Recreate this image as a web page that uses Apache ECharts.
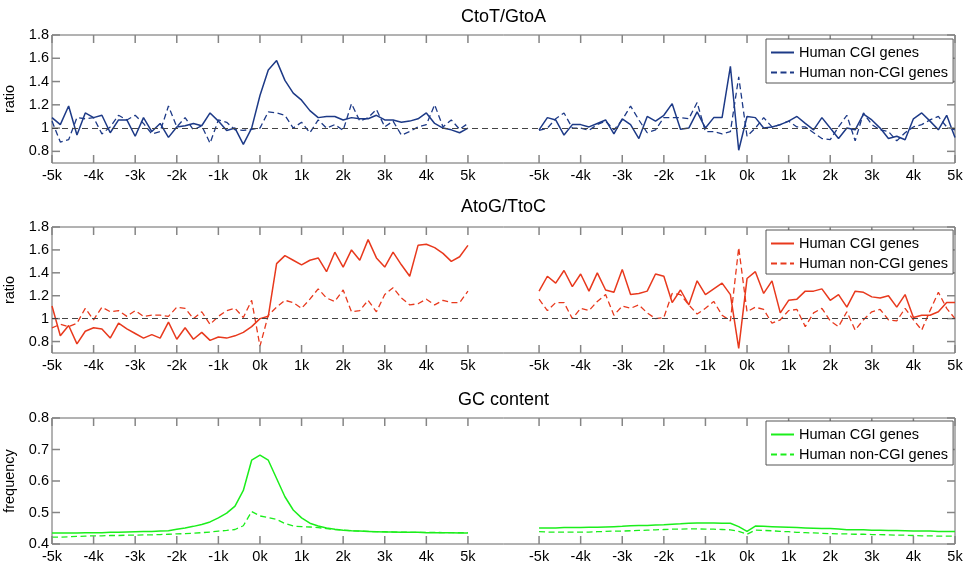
<!DOCTYPE html>
<html><head><meta charset="utf-8">
<script src="https://cdn.jsdelivr.net/npm/echarts@6/dist/echarts.min.js"></script>
<style>html,body{margin:0;padding:0;background:#fff}#c{width:965px;height:565px}</style>
</head><body><div id="c"></div>
<script>
// positions (kb) of the sampled windows, same for both segments
const POS = [-5,-4.8,-4.6,-4.4,-4.2,-4,-3.8,-3.6,-3.4,-3.2,-3,-2.8,-2.6,-2.4,-2.2,-2,-1.8,-1.6,-1.4,-1.2,-1,-0.8,-0.6,-0.4,-0.2,0,0.2,0.4,0.6,0.8,1,1.2,1.4,1.6,1.8,2,2.2,2.4,2.6,2.8,3,3.2,3.4,3.6,3.8,4,4.2,4.4,4.6,4.8,5];
const SHIFT = 11.71;            // where the right-hand segment sits on the shared axis
const TICK_K = [-5,-4,-3,-2,-1,0,1,2,3,4,5];

// Panel 1: CtoT/GtoA
const ctLeftCGI  = [1.09,1.03,1.19,0.94,1.13,1.09,1.11,0.96,1.07,1.07,0.93,1.09,0.97,1.04,0.92,1.01,1.02,1.04,1.02,1.13,1.06,0.98,1.0,0.86,1.0,1.28,1.5,1.58,1.41,1.3,1.24,1.15,1.09,1.1,1.1,1.07,1.09,1.08,1.08,1.11,1.07,1.07,1.05,1.06,1.08,1.13,1.04,1.0,0.985,0.96,1.0];
const ctLeftNon  = [1.06,0.88,0.9,1.09,1.08,1.09,0.95,1.01,1.11,1.07,1.11,1.04,0.95,0.97,1.19,1.01,1.09,0.985,1.02,0.87,1.07,1.05,0.985,0.98,0.99,1.0,1.14,1.13,1.11,1.0,1.05,0.96,1.07,1.0,1.03,0.98,1.21,1.06,1.09,1.16,1.01,1.06,0.94,0.97,1.01,1.03,1.2,1.01,1.07,0.99,1.04];
const ctRightCGI = [0.985,1.09,1.07,0.94,1.03,1.03,1.01,1.04,1.07,0.95,1.08,1.03,0.91,1.1,1.06,1.11,1.21,0.99,1.0,1.14,1.0,1.09,1.09,1.53,0.81,1.1,1.09,1.0,1.01,1.03,1.06,1.1,1.04,0.985,1.09,1.0,0.91,1.0,0.985,1.12,1.07,1.0,0.91,0.93,0.9,1.08,1.13,1.06,0.985,1.11,0.92];
const ctRightNon = [0.98,1.0,1.08,1.13,1.0,1.0,0.98,1.03,1.06,0.985,1.07,1.19,1.07,0.96,0.985,1.09,1.09,1.09,1.08,1.22,0.97,0.97,0.95,0.97,1.44,0.93,1.0,1.09,1.01,1.03,1.06,1.01,1.01,0.96,0.91,0.9,1.01,1.11,0.89,1.13,1.03,0.985,0.97,0.89,0.96,1.01,1.03,1.07,1.1,1.01,0.985];

// Panel 2: AtoG/TtoC
const agLeftCGI  = [1.11,0.85,0.94,0.78,0.89,0.92,0.91,0.83,0.96,0.91,0.87,0.83,0.86,0.83,0.97,0.82,0.92,0.82,0.88,0.81,0.84,0.83,0.85,0.88,0.93,1.0,1.02,1.48,1.55,1.51,1.47,1.51,1.53,1.41,1.58,1.45,1.6,1.51,1.69,1.53,1.45,1.58,1.47,1.37,1.64,1.65,1.62,1.57,1.5,1.54,1.64];
const agLeftNon  = [0.92,0.95,0.93,0.96,1.09,0.99,1.1,1.06,1.07,1.02,1.07,1.02,1.03,1.03,1.02,1.1,1.09,1.0,1.06,0.95,1.02,1.07,1.09,1.01,1.16,0.76,1.03,1.1,1.16,1.14,1.09,1.17,1.26,1.18,1.15,1.25,1.06,1.07,1.16,1.06,1.21,1.27,1.18,1.12,1.13,1.17,1.12,1.16,1.14,1.14,1.24];
const agRightCGI = [1.24,1.37,1.31,1.42,1.28,1.39,1.24,1.4,1.25,1.23,1.43,1.21,1.22,1.24,1.39,1.37,1.14,1.25,1.12,1.33,1.21,1.26,1.31,1.21,0.74,1.35,1.41,1.22,1.33,1.05,1.16,1.17,1.24,1.24,1.26,1.16,1.21,1.1,1.24,1.23,1.19,1.18,1.2,1.1,1.21,1.01,1.03,1.03,1.06,1.14,1.14];
const agRightNon = [1.17,1.07,1.14,1.14,1.0,1.09,1.07,1.15,1.21,1.03,1.11,1.09,1.12,1.05,1.0,1.01,1.22,1.21,1.12,1.04,1.09,1.15,1.03,0.98,1.62,1.06,1.1,1.08,0.96,0.99,1.07,1.08,0.93,1.05,1.09,0.98,0.93,1.06,0.9,0.99,1.06,1.08,0.99,0.98,1.09,0.99,0.9,1.07,1.23,1.09,1.0];

// Panel 3: GC content
const gcLeftCGI  = [0.435,0.435,0.435,0.435,0.436,0.436,0.436,0.437,0.437,0.438,0.439,0.44,0.44,0.441,0.442,0.447,0.451,0.456,0.462,0.47,0.483,0.498,0.52,0.57,0.666,0.682,0.666,0.608,0.55,0.508,0.483,0.466,0.457,0.451,0.447,0.444,0.442,0.441,0.44,0.439,0.438,0.438,0.437,0.437,0.437,0.436,0.436,0.436,0.436,0.435,0.435];
const gcLeftNon  = [0.422,0.422,0.423,0.424,0.425,0.426,0.426,0.427,0.427,0.428,0.428,0.429,0.429,0.43,0.431,0.432,0.433,0.434,0.436,0.438,0.441,0.443,0.446,0.458,0.503,0.489,0.484,0.478,0.465,0.457,0.455,0.454,0.452,0.449,0.446,0.444,0.442,0.441,0.44,0.439,0.439,0.438,0.438,0.437,0.437,0.437,0.437,0.436,0.436,0.436,0.436];
const gcRightCGI = [0.451,0.451,0.451,0.452,0.452,0.452,0.453,0.453,0.454,0.455,0.456,0.458,0.459,0.459,0.46,0.461,0.463,0.464,0.466,0.467,0.467,0.467,0.466,0.466,0.455,0.44,0.457,0.456,0.455,0.454,0.453,0.452,0.451,0.45,0.449,0.449,0.448,0.445,0.445,0.445,0.444,0.444,0.443,0.443,0.442,0.441,0.441,0.441,0.44,0.44,0.44];
const gcRightNon = [0.439,0.438,0.438,0.438,0.438,0.438,0.438,0.439,0.44,0.441,0.441,0.442,0.443,0.444,0.445,0.446,0.447,0.447,0.448,0.448,0.447,0.447,0.446,0.445,0.44,0.431,0.444,0.443,0.442,0.44,0.439,0.437,0.436,0.435,0.434,0.433,0.432,0.432,0.431,0.431,0.43,0.43,0.429,0.428,0.428,0.427,0.426,0.426,0.425,0.425,0.425];

const TITLES = ['CtoT/GtoA', 'AtoG/TtoC', 'GC content'];
const Y_NAMES = ['ratio', 'ratio', 'frequency'];
const Y_TICKS = [[0.8,1,1.2,1.4,1.6,1.8],[0.8,1,1.2,1.4,1.6,1.8],[0.4,0.5,0.6,0.7,0.8]];
const Y_RANGE = [[0.7,1.8],[0.7,1.8],[0.4,0.8]];
const COLORS = ['#1d3a87', '#e8391d', '#1bee1b'];
const LEGEND_NAMES = ['Human CGI genes', 'Human non-CGI genes'];
const DATA = [
  [ctLeftCGI, ctRightCGI, ctLeftNon, ctRightNon],
  [agLeftCGI, agRightCGI, agLeftNon, agRightNon],
  [gcLeftCGI, gcRightCGI, gcLeftNon, gcRightNon]
];

// layout
const GRID_TOP = [35, 227, 418];
const GRID_H = [128, 126, 126];
const TITLE_Y = [17, 207, 400];
const LEGEND_TOP = [39, 230, 421];
const FONT = '"Liberation Sans", Arial, Helvetica, sans-serif';
const TICK_LEN = 8, TICK_COLOR = '#858585';

const X_MIN = -5, X_MAX = 5 + SHIFT;
const xTickVals = TICK_K.concat(TICK_K.map(v => v + SHIFT));
const xFmt = v => (v > 5.5 ? Math.round(v - SHIFT) : Math.round(v)) + 'k';
const pairs = (vals, shift) => POS.map((p, i) => [p + shift, vals[i]]);
const uniq = (name, k) => name + ' '.repeat(k);

// inward tick marks on all four sides, placed through the axes' own scales
function tickSeries(k) {
  const [y0, y1] = Y_RANGE[k];
  const line = (a, b) => ({type: 'line', shape: {x1: a[0], y1: a[1], x2: b[0], y2: b[1]},
    style: {stroke: TICK_COLOR, lineWidth: 1.5}});
  return [
    {type: 'custom', xAxisIndex: k, yAxisIndex: k, silent: true, z: 4, clip: false,
      data: xTickVals.map(v => [v, y0]),
      renderItem: (p, api) => {
        const v = api.value(0), b = api.coord([v, y0]), t = api.coord([v, y1]);
        return {type: 'group', children: [line(b, [b[0], b[1] - TICK_LEN]), line(t, [t[0], t[1] + TICK_LEN])]};
      }},
    {type: 'custom', xAxisIndex: k, yAxisIndex: k, silent: true, z: 4, clip: false,
      data: Y_TICKS[k].map(v => [X_MIN, v]),
      renderItem: (p, api) => {
        const v = api.value(1), l = api.coord([X_MIN, v]), r = api.coord([X_MAX, v]);
        return {type: 'group', children: [line(l, [l[0] + TICK_LEN, l[1]]), line(r, [r[0] - TICK_LEN, r[1]])]};
      }}
  ];
}

const grid = [], xAxis = [], yAxis = [], series = [], title = [], legend = [];
for (let k = 0; k < 3; k++) {
  grid.push({left: 52, right: 10, top: GRID_TOP[k], height: GRID_H[k], show: true,
    borderColor: '#666', borderWidth: 1, containLabel: false, outerBoundsMode: 'none'});
  xAxis.push({type: 'value', gridIndex: k, min: X_MIN, max: X_MAX, position: 'bottom',
    axisLine: {show: false, onZero: false}, splitLine: {show: false}, axisTick: {show: false},
    axisLabel: {customValues: xTickVals, formatter: xFmt, color: '#000', fontSize: 14.5, fontFamily: FONT, margin: 5}});
  yAxis.push({type: 'value', gridIndex: k, min: Y_RANGE[k][0], max: Y_RANGE[k][1], position: 'left',
    name: Y_NAMES[k], nameLocation: 'middle', nameGap: 18,
    nameTextStyle: {color: '#000', fontSize: 14.5, fontFamily: FONT},
    axisLine: {show: false, onZero: false}, splitLine: {show: false}, axisTick: {show: false},
    axisLabel: {customValues: Y_TICKS[k], color: '#000', fontSize: 14.5, fontFamily: FONT, margin: 3}});

  const nCGI = uniq(LEGEND_NAMES[0], k), nNon = uniq(LEGEND_NAMES[1], k);
  const [lc, rc, ln, rn] = DATA[k];
  const solid = {color: COLORS[k], width: 1.5, type: 'solid'};
  const dashed = {color: COLORS[k], width: 1.3, type: [6, 3.5]};
  const base = {type: 'line', xAxisIndex: k, yAxisIndex: k, symbol: 'none', showSymbol: false,
    animation: false, z: 3, itemStyle: {color: COLORS[k]}};
  const s0 = Object.assign({}, base, {name: nCGI, data: pairs(lc, 0), lineStyle: solid});
  if (k < 2) {
    s0.markLine = {silent: true, symbol: ['none', 'none'], label: {show: false}, animation: false,
      lineStyle: {color: '#444', width: 1, type: [6, 4]}, data: [{yAxis: 1}]};
  }
  series.push(s0);
  series.push(Object.assign({}, base, {name: nCGI, data: pairs(rc, SHIFT), lineStyle: solid}));
  series.push(Object.assign({}, base, {name: nNon, data: pairs(ln, 0), lineStyle: dashed}));
  series.push(Object.assign({}, base, {name: nNon, data: pairs(rn, SHIFT), lineStyle: dashed}));
  series.push(...tickSeries(k));

  title.push({text: TITLES[k], left: 503.5, top: TITLE_Y[k], padding: 0, textAlign: 'center', textVerticalAlign: 'middle',
    textStyle: {color: '#000', fontSize: 18, fontWeight: 'normal', fontFamily: FONT}});
  legend.push({data: [nCGI, nNon], orient: 'vertical', left: 766, top: LEGEND_TOP[k], z: 10,
    padding: [6, 5, 3, 4], itemWidth: 23, itemHeight: 14, itemGap: 5, selectedMode: false,
    borderColor: '#555', borderWidth: 1, backgroundColor: '#fff', borderRadius: 0,
    itemStyle: {opacity: 0},
    formatter: n => n.trim(),
    textStyle: {color: '#000', fontSize: 14.5, fontFamily: FONT, lineHeight: 14}});
}

const chart = echarts.init(document.getElementById('c'), null, {renderer: 'canvas'});
chart.setOption({animation: false, backgroundColor: '#fff', title, legend, grid, xAxis, yAxis, series});
</script>
</body></html>
